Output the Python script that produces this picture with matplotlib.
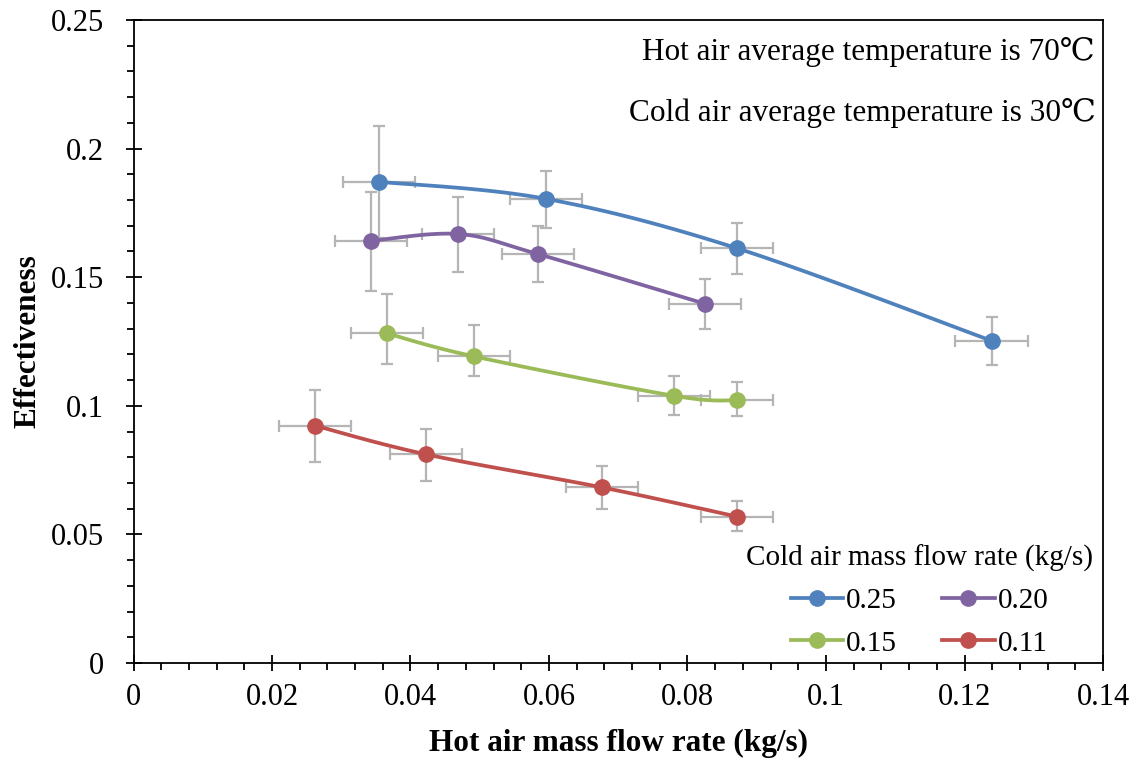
import numpy as np
import matplotlib
matplotlib.use("Agg")
import matplotlib.pyplot as plt
from matplotlib.ticker import MultipleLocator

plt.rcParams['font.family'] = ['Liberation Serif', 'DejaVu Serif']

# Cold air mass flow rates (kg/s) used as series labels
series_labels = ["0.25", "0.20", "0.15", "0.11"]
series_colors = ["#4F81BD", "#8064A2", "#9BBB59", "#C0504D"]

# Hot air mass flow rate (kg/s)
hot_flow_025 = [0.03545, 0.0595, 0.0872, 0.1239]
hot_flow_020 = [0.03425, 0.0469, 0.0584, 0.0825]
hot_flow_015 = [0.03656, 0.0492, 0.0780, 0.0871]
hot_flow_011 = [0.0262, 0.0423, 0.0676, 0.0872]

# Effectiveness
eff_025 = [0.1871, 0.1805, 0.1612, 0.1253]
eff_020 = [0.1641, 0.1668, 0.1590, 0.1397]
eff_015 = [0.1282, 0.1192, 0.1039, 0.1021]
eff_011 = [0.0923, 0.0811, 0.0683, 0.0569]

# Effectiveness uncertainty (lower, upper)
eff_err_lo_025 = [0.0217, 0.0113, 0.0100, 0.0094]
eff_err_hi_025 = [0.0217, 0.0108, 0.0097, 0.0093]
eff_err_lo_020 = [0.0193, 0.0147, 0.0110, 0.0098]
eff_err_hi_020 = [0.0192, 0.0143, 0.0109, 0.0096]
eff_err_lo_015 = [0.0119, 0.0075, 0.0075, 0.0062]
eff_err_hi_015 = [0.0152, 0.0121, 0.0077, 0.0071]
eff_err_lo_011 = [0.0140, 0.0103, 0.0086, 0.0054]
eff_err_hi_011 = [0.0139, 0.0098, 0.0084, 0.0061]

# Hot air mass flow rate uncertainty (kg/s)
flow_err = 0.0052

hot_flows = [hot_flow_025, hot_flow_020, hot_flow_015, hot_flow_011]
effs = [eff_025, eff_020, eff_015, eff_011]
errs_lo = [eff_err_lo_025, eff_err_lo_020, eff_err_lo_015, eff_err_lo_011]
errs_hi = [eff_err_hi_025, eff_err_hi_020, eff_err_hi_015, eff_err_hi_011]


def smooth_curve(xs, ys, n=40):
    """Cubic Bezier smoothing through the points (Catmull-Rom style)."""
    p = np.column_stack([xs, ys]).astype(float)
    ext = np.vstack([p[0], p, p[-1]])
    out = []
    t = np.linspace(0, 1, n)[:, None]
    for i in range(len(p) - 1):
        p0, p1, p2, p3 = ext[i], ext[i + 1], ext[i + 2], ext[i + 3]
        c1 = p1 + (p2 - p0) / 6.0
        c2 = p2 - (p3 - p1) / 6.0
        seg = ((1 - t) ** 3) * p1 + 3 * ((1 - t) ** 2) * t * c1 \
            + 3 * (1 - t) * t ** 2 * c2 + t ** 3 * p2
        out.append(seg if i == 0 else seg[1:])
    out = np.vstack(out)
    return out[:, 0], out[:, 1]


W, H = 1137, 760
fig = plt.figure(figsize=(W / 100, H / 100), dpi=100)
ax = fig.add_axes([133.5 / W, 1 - 663 / H, (1103 - 133.5) / W, (663 - 20) / H])

fs_tick = 22
fs_label = 22.5
fs_note = 22.5
fs_leg = 21
err_color = "#B5B5B5"
line_w = 2.7

handles = []
for xs, ys, lo, hi, col, lab in zip(hot_flows, effs, errs_lo, errs_hi,
                                     series_colors, series_labels):
    ax.errorbar(xs, ys, yerr=[lo, hi], xerr=flow_err, fmt="none",
                ecolor=err_color, elinewidth=1.6, capsize=4.5,
                capthick=1.6, zorder=2)
    sx, sy = smooth_curve(xs, ys)
    ax.plot(sx, sy, color=col, lw=line_w, zorder=3, solid_capstyle="round")
    ax.plot(xs, ys, linestyle="none", marker="o", ms=11, color=col,
            zorder=4)
    h, = ax.plot([], [], color=col, lw=line_w, marker="o", ms=11, label=lab)
    handles.append(h)

ax.set_xlim(0, 0.14)
ax.set_ylim(0, 0.25)
ax.xaxis.set_major_locator(MultipleLocator(0.02))
ax.xaxis.set_minor_locator(MultipleLocator(0.004))
ax.yaxis.set_major_locator(MultipleLocator(0.05))
ax.yaxis.set_minor_locator(MultipleLocator(0.01))
ax.xaxis.set_major_formatter(plt.FuncFormatter(lambda v, p: f"{v:g}"))
ax.yaxis.set_major_formatter(plt.FuncFormatter(lambda v, p: f"{v:g}"))

for s in ax.spines.values():
    s.set_linewidth(1.3)
    s.set_color("black")

ax.tick_params(axis="both", which="major", direction="inout", length=11,
               width=1.3, labelsize=fs_tick)
ax.tick_params(axis="both", which="minor", direction="out", length=5,
               width=1.3)
ax.tick_params(axis="x", which="major", pad=9)
ax.tick_params(axis="y", which="major", pad=16)

ax.set_xlabel("Hot air mass flow rate (kg/s)", fontsize=fs_label,
              fontweight="bold", labelpad=12)
ax.set_ylabel("Effectiveness", fontsize=fs_label, fontweight="bold",
              labelpad=6)

ax.text(0.9918, 0.950, "Hot air average temperature is 70℃",
        transform=ax.transAxes, ha="right", va="center", fontsize=fs_note)
ax.text(0.9930, 0.856, "Cold air average temperature is 30℃",
        transform=ax.transAxes, ha="right", va="center", fontsize=fs_note)

# two columns filled row by row: 0.25, 0.20 / 0.15, 0.11
order = [0, 2, 1, 3]
leg = ax.legend([handles[i] for i in order], [series_labels[i] for i in order],
                title="Cold air mass flow rate (kg/s)", ncol=2,
                loc="lower right", bbox_to_anchor=(0.9897, 0.010),
                frameon=False, fontsize=fs_leg, title_fontsize=fs_leg,
                handlelength=1.8, handletextpad=0.1, columnspacing=1.55,
                labelspacing=0.55, borderpad=0, borderaxespad=0)

fig.savefig("out.png", dpi=100)
